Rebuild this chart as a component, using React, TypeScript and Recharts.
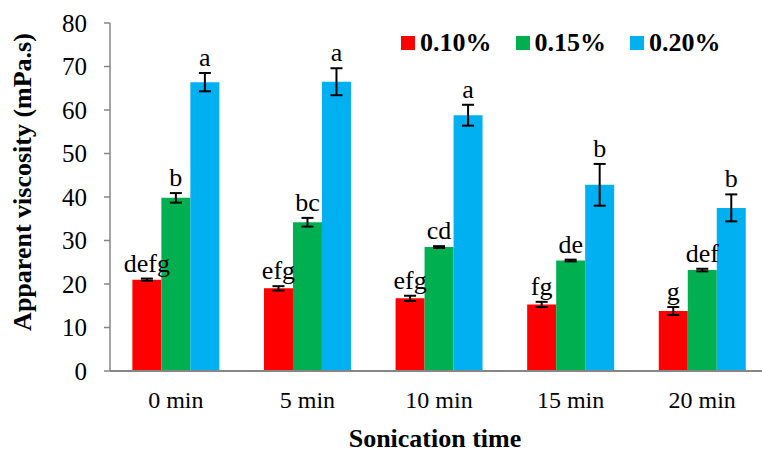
import React from 'react';
import {
    BarChart,
    Bar,
    XAxis,
    YAxis,
    ErrorBar,
    LabelList,
    Label,
} from 'recharts';

const categories = ['0 min', '5 min', '10 min', '15 min', '20 min'];

const visc010 = [21.0, 19.0, 16.7, 15.3, 13.8];
const err010 = [0.25, 0.5, 0.6, 0.6, 0.9];
const letters010 = ['defg', 'efg', 'efg', 'fg', 'g'];

const visc015 = [39.8, 34.2, 28.5, 25.4, 23.2];
const err015 = [1.1, 1.0, 0.2, 0.2, 0.3];
const letters015 = ['b', 'bc', 'cd', 'de', 'def'];

const visc020 = [66.4, 66.5, 58.8, 42.8, 37.5];
const err020 = [2.1, 3.1, 2.4, 4.8, 3.1];
const letters020 = ['a', 'a', 'a', 'b', 'b'];

const yTicks = [0, 10, 20, 30, 40, 50, 60, 70, 80];

const series = [
    { key: 'v1', err: 'e1', letter: 'l1', name: '0.10%', color: '#FF0000' },
    { key: 'v2', err: 'e2', letter: 'l2', name: '0.15%', color: '#00B050' },
    { key: 'v3', err: 'e3', letter: 'l3', name: '0.20%', color: '#00B0F0' },
];

const chartData = categories.map((c, i) => ({
    name: c,
    v1: visc010[i], e1: err010[i], l1: letters010[i],
    v2: visc015[i], e2: err015[i], l2: letters015[i],
    v3: visc020[i], e3: err020[i], l3: letters020[i],
}));

const FONT = 'Liberation Serif, DejaVu Serif, serif';
const AXIS_GREY = '#868686';

// letter sits above the error bar; error converted to px using the bar's own px/unit
const makeLetter = (valKey: string, errKey: string) => (props: any) => {
    const { x, y, width, height, value, index } = props;
    const row: any = chartData[index];
    if (!row || !height) return null;
    const pxPerUnit = height / row[valKey];
    const errTop = y - row[errKey] * pxPerUnit;
    return (
        <text
            x={x + width / 2}
            y={errTop - 7}
            textAnchor="middle"
            style={{ fontFamily: FONT, fontSize: 26 }}
            fill="#000"
        >
            {value}
        </text>
    );
};

const YTitle = (props: any) => {
    const { viewBox } = props;
    const cy = viewBox.y + viewBox.height / 2 - 15;
    return (
        <text
            x={31}
            y={cy}
            transform={`rotate(-90, 31, ${cy})`}
            textAnchor="middle"
            style={{ fontFamily: FONT, fontWeight: 'bold', fontSize: 26 }}
            fill="#000"
        >
            Apparent viscosity (mPa.s)
        </text>
    );
};

const XTitle = (props: any) => {
    const { viewBox } = props;
    return (
        <text
            x={viewBox.x + viewBox.width / 2 - 4}
            y={viewBox.y + 76}
            textAnchor="middle"
            style={{ fontFamily: FONT, fontWeight: 'bold', fontSize: 26 }}
            fill="#000"
        >
            Sonication time
        </text>
    );
};

export default function App() {
    return (
        <div style={{ position: 'absolute', left: 0, top: 0, width: 762, height: 453, background: '#fff', fontFamily: FONT }}>
            <BarChart
                width={762}
                height={453}
                data={chartData}
                margin={{ top: 23, right: -6, left: 0, bottom: 0 }}
                barCategoryGap="17%"
                barGap={0}
            >
                <XAxis
                    dataKey="name"
                    height={82}
                    axisLine={{ stroke: AXIS_GREY, strokeWidth: 2 }}
                    tickLine={false}
                    tickSize={0}
                    tickMargin={20}
                    tick={{ style: { fontFamily: FONT, fontSize: 24 }, fill: '#000' }}
                    label={<Label content={XTitle} />}
                />
                <YAxis
                    width={110}
                    domain={[0, 80]}
                    ticks={yTicks}
                    interval={0}
                    axisLine={{ stroke: AXIS_GREY, strokeWidth: 1.5 }}
                    tickLine={{ stroke: AXIS_GREY, strokeWidth: 1.5 }}
                    tickSize={6}
                    tickMargin={17}
                    tick={{ style: { fontFamily: FONT, fontSize: 25 }, fill: '#000' }}
                    label={<Label content={YTitle} />}
                />
                {series.map((s) => (
                    <Bar key={s.key} dataKey={s.key} name={s.name} fill={s.color} isAnimationActive={false}>
                        <ErrorBar dataKey={s.err} width={6} strokeWidth={2} stroke="#000" direction="y" isAnimationActive={false} />
                        <LabelList dataKey={s.letter} content={makeLetter(s.key, s.err)} />
                    </Bar>
                ))}
            </BarChart>
            {/* legend overlay, top right of the plot */}
            <div style={{ position: 'absolute', top: 30, left: 401, display: 'flex', alignItems: 'center', fontWeight: 'bold', fontSize: 26, lineHeight: '26px' }}>
                {series.map((s) => (
                    <div key={s.key} style={{ display: 'flex', alignItems: 'center', marginRight: 24 }}>
                        <span style={{ display: 'inline-block', width: 14, height: 14, background: s.color, marginRight: 5 }} />
                        <span>{s.name}</span>
                    </div>
                ))}
            </div>
        </div>
    );
}
